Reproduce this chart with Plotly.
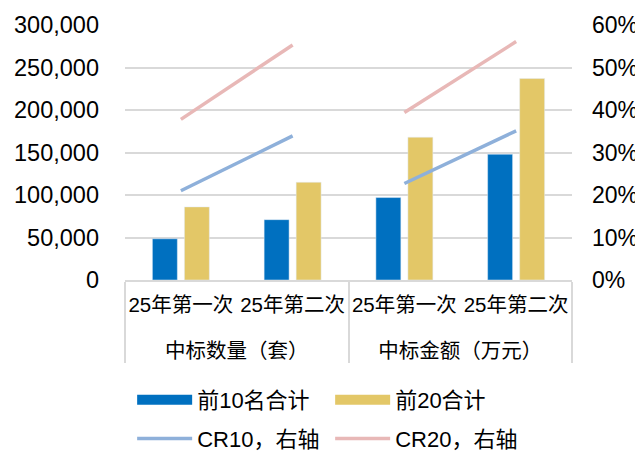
import plotly.graph_objects as go

groups = ["中标数量（套）", "中标数量（套）", "中标金额（万元）", "中标金额（万元）"]
subs = ["25年第一次", "25年第二次", "25年第一次", "25年第二次"]
top10 = [48500, 71000, 97000, 148000]
top20 = [86000, 115000, 168000, 237000]
cr10 = [0.21, 0.339, 0.227, 0.351]
cr20 = [0.378, 0.553, 0.394, 0.561]

names = ["前10名合计", "前20合计", "CR10，右轴", "CR20，右轴"]
c_blue = "#0070C0"
c_gold = "#E3C767"
c_cr10 = "#8EB0DA"
c_cr20 = "#E8B8B7"

FONT = "Liberation Sans, Arial, Noto Sans CJK SC"

# sub labels with a trailing blank line to leave room before the group labels
sub_lbl = [s + "<br> " for s in subs]
xcat = [groups, sub_lbl]

fig = go.Figure()
fig.add_trace(go.Bar(x=xcat, y=top10, marker_color=c_blue, showlegend=False, name=names[0]))
fig.add_trace(go.Bar(x=xcat, y=top20, marker_color=c_gold, showlegend=False, name=names[1]))

for vals, col, nm in [(cr10, c_cr10, names[2]), (cr20, c_cr20, names[3])]:
    for i in (0, 2):
        fig.add_trace(go.Scatter(x=[groups[i:i + 2], sub_lbl[i:i + 2]], y=vals[i:i + 2], mode="lines",
                                 line=dict(color=col, width=3.5), yaxis="y2",
                                 showlegend=(i == 0), name=nm, legendgroup=nm, legend="legend2"))

# legend entries for bars (wide swatches)
for col, nm in [(c_blue, names[0]), (c_gold, names[1])]:
    fig.add_trace(go.Scatter(x=[[groups[0]], [sub_lbl[0]]], y=[None], mode="lines",
                             line=dict(color=col, width=12), name=nm, showlegend=True, legend="legend"))

fig.update_layout(
    width=635, height=444,
    margin=dict(l=117, r=71, t=17, b=172, autoexpand=False),
    paper_bgcolor="white", plot_bgcolor="white",
    font=dict(family=FONT, size=20, color="black"),
    barmode="group", bargap=0.427, bargroupgap=0.22,
    xaxis=dict(type="multicategory", showline=True, linecolor="#D9D9D9", linewidth=1.5,
               showdividers=True, dividercolor="#D9D9D9", dividerwidth=1.5,
               tickfont=dict(size=20.5), tickangle=0, showgrid=False, ticks="", automargin=False,
               ticklabelstandoff=6),
    yaxis=dict(range=[0, 300000], dtick=50000, tickformat=",d", showgrid=True,
               gridcolor="#D9D9D9", gridwidth=1.5, zeroline=False, automargin=False,
               tickfont=dict(size=23.5), ticklabelstandoff=25),
    yaxis2=dict(range=[0, 0.6], dtick=0.1, tickformat=".0%", overlaying="y", side="right",
                showgrid=False, zeroline=False, tickfont=dict(size=23), ticklabelstandoff=19,
                automargin=False),
    legend=dict(orientation="h", x=0.016, xanchor="left", y=-0.388, yanchor="top",
                itemwidth=55, entrywidth=128, font=dict(size=22), bgcolor="rgba(0,0,0,0)"),
    legend2=dict(orientation="h", x=0.016, xanchor="left", y=-0.54, yanchor="top",
                 itemwidth=55, entrywidth=128, font=dict(size=22), bgcolor="rgba(0,0,0,0)"),
)

fig.write_html("out.html")
